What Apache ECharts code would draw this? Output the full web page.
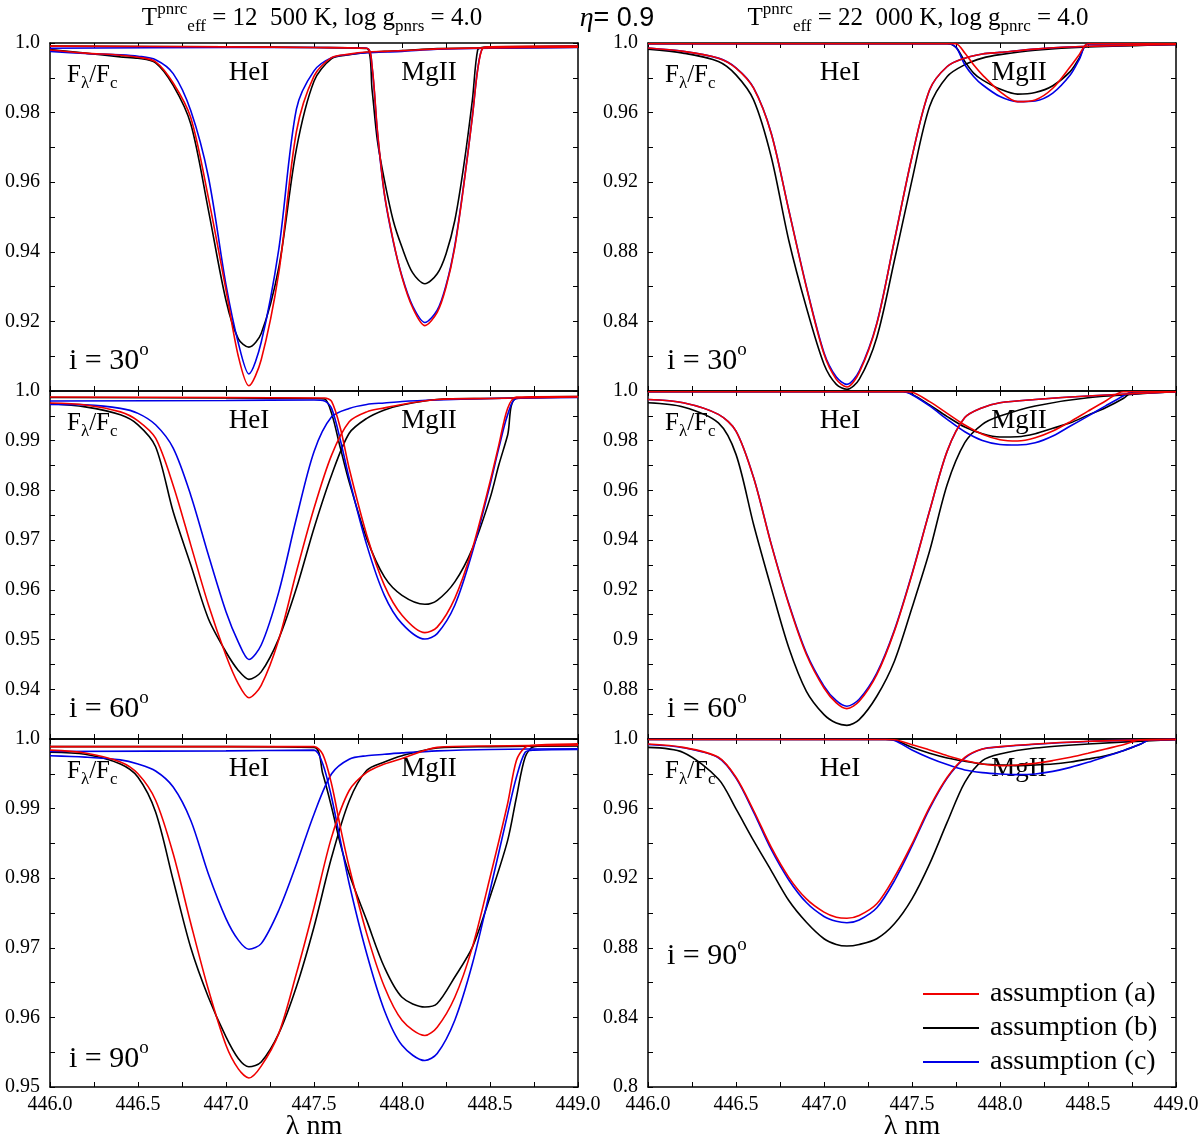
<!DOCTYPE html>
<html>
<head>
<meta charset="utf-8">
<title>HeI / MgII profiles</title>
<script src="https://cdn.jsdelivr.net/npm/echarts@6/dist/echarts.min.js"></script>
<style>
  html, body { margin: 0; padding: 0; background: #fff; }
  #chart { width: 1200px; height: 1144px; }
</style>
</head>
<body>
<div id="chart"></div>
<script>
// wavelength grid (nm) shared by all HeI profiles
const wlHe = [446.0, 446.2, 446.4, 446.5, 446.6, 446.7, 446.8, 446.9, 447.0, 447.07, 447.13, 447.2,
  447.3, 447.4, 447.5, 447.6, 447.7, 447.8, 447.9, 448.0, 448.2, 448.5, 449.0];

// ---- left column: Teff = 12 500 K ----
// i = 30
const heTL_a = [0.998, 0.9971, 0.9965, 0.9959, 0.9946, 0.9885, 0.9785, 0.9555, 0.929, 0.910, 0.9015, 0.909, 0.934, 0.9745, 0.9905, 0.9958, 0.9968, 0.9974, 0.9976, 0.9978, 0.9983, 0.9986, 0.9988];
const heTL_b = [0.9981, 0.9971, 0.996, 0.9956, 0.9943, 0.9878, 0.9767, 0.952, 0.926, 0.915, 0.9126, 0.9165, 0.9355, 0.9695, 0.989, 0.9955, 0.9966, 0.9973, 0.9976, 0.9978, 0.9984, 0.9986, 0.9988];
const heTL_c = [0.9976, 0.997, 0.9966, 0.9962, 0.9952, 0.9912, 0.9805, 0.9615, 0.9305, 0.9138, 0.9049, 0.914, 0.9408, 0.981, 0.992, 0.9958, 0.9967, 0.9972, 0.9974, 0.9976, 0.9982, 0.9985, 0.9987];
const mgWlTL = [446.0, 447.0, 447.5, 447.8, 447.83, 447.86, 447.9, 447.95, 448.0, 448.06, 448.13, 448.2, 448.25, 448.3, 448.35, 448.4, 448.43, 448.46, 448.5, 449.0];
const mgTL_a = [0.9991, 0.9989, 0.9987, 0.9985, 0.9933, 0.975, 0.9567, 0.9433, 0.9327, 0.924, 0.9188, 0.9226, 0.9298, 0.9413, 0.9587, 0.9788, 0.9923, 0.9986, 0.9989, 0.9991];
const mgTL_b = [0.9991, 0.9989, 0.9987, 0.9984, 0.9865, 0.972, 0.9606, 0.949, 0.9413, 0.934, 0.9308, 0.9337, 0.9394, 0.949, 0.9644, 0.9837, 0.998, 0.9988, 0.9989, 0.9991];
const mgTL_c = [0.9985, 0.9987, 0.9987, 0.9985, 0.993, 0.9745, 0.9565, 0.943, 0.933, 0.9245, 0.9197, 0.9232, 0.9303, 0.9418, 0.959, 0.979, 0.9925, 0.9986, 0.9988, 0.999];

// i = 60
const heML_a = [0.9976, 0.9972, 0.9958, 0.994, 0.9905, 0.981, 0.969, 0.957, 0.9468, 0.9411, 0.9383, 0.9408, 0.950, 0.9636, 0.9764, 0.9871, 0.9938, 0.9958, 0.9966, 0.9973, 0.9983, 0.9985, 0.9988];
const heML_b = [0.9975, 0.9968, 0.9952, 0.9932, 0.9888, 0.9757, 0.965, 0.9542, 0.9475, 0.9438, 0.942, 0.9435, 0.9502, 0.9603, 0.9724, 0.9831, 0.9915, 0.9945, 0.9962, 0.9972, 0.9983, 0.9985, 0.9988];
const heML_c = [0.9973, 0.9972, 0.9965, 0.9955, 0.9932, 0.9885, 0.979, 0.967, 0.9556, 0.9495, 0.946, 0.9489, 0.9596, 0.9744, 0.9878, 0.9948, 0.9965, 0.9973, 0.9976, 0.9979, 0.9982, 0.9985, 0.9987];
const mgWlML = [446.0, 447.0, 447.5, 447.56, 447.6, 447.65, 447.7, 447.8, 447.9, 448.0, 448.13, 448.2, 448.3, 448.4, 448.5, 448.55, 448.6, 448.65, 449.0];
const mgML_a = [0.9988, 0.9987, 0.9986, 0.9986, 0.9979, 0.9925, 0.9844, 0.971, 0.9609, 0.9549, 0.9514, 0.9525, 0.9583, 0.9683, 0.9817, 0.9891, 0.9965, 0.9988, 0.9989];
const mgML_b = [0.9987, 0.9986, 0.9985, 0.9984, 0.9955, 0.9885, 0.9817, 0.9703, 0.9626, 0.9589, 0.9571, 0.9579, 0.9616, 0.9683, 0.9784, 0.9851, 0.9911, 0.9985, 0.9989];
const mgML_c = [0.998, 0.9981, 0.9982, 0.998, 0.9965, 0.9901, 0.9824, 0.969, 0.9589, 0.9532, 0.9501, 0.9512, 0.9569, 0.9676, 0.9811, 0.9885, 0.9952, 0.9985, 0.9988];

// i = 90
const heBL_a = [0.9984, 0.998, 0.9967, 0.995, 0.9912, 0.9835, 0.9735, 0.964, 0.956, 0.9526, 0.9513, 0.953, 0.9577, 0.9663, 0.9758, 0.9859, 0.9926, 0.9952, 0.9964, 0.9972, 0.9988, 0.999, 0.9991];
const heBL_b = [0.9981, 0.9978, 0.9964, 0.9945, 0.9895, 0.9797, 0.970, 0.9629, 0.9572, 0.9541, 0.9529, 0.9536, 0.9577, 0.9644, 0.973, 0.983, 0.9911, 0.9955, 0.9967, 0.9976, 0.9987, 0.9989, 0.999];
const heBL_c = [0.9976, 0.9974, 0.997, 0.9964, 0.9954, 0.9931, 0.9883, 0.9806, 0.9742, 0.9711, 0.9698, 0.9706, 0.9754, 0.982, 0.9892, 0.995, 0.9971, 0.9976, 0.9978, 0.998, 0.9983, 0.9985, 0.9986];
const mgWlBL = [446.0, 447.0, 447.5, 447.55, 447.6, 447.65, 447.7, 447.8, 447.9, 448.0, 448.13, 448.2, 448.3, 448.4, 448.5, 448.6, 448.65, 448.7, 448.75, 449.0];
const mgBL_a = [0.9989, 0.9989, 0.9989, 0.9978, 0.9935, 0.9873, 0.9816, 0.972, 0.9644, 0.9596, 0.9574, 0.9586, 0.9629, 0.9701, 0.9801, 0.9907, 0.9969, 0.9988, 0.9991, 0.9993];
const mgBL_b = [0.9989, 0.9989, 0.9988, 0.995, 0.9902, 0.9849, 0.9806, 0.9739, 0.9672, 0.9629, 0.9615, 0.962, 0.9658, 0.9701, 0.9773, 0.9854, 0.9916, 0.9974, 0.9989, 0.9991];
const mgBL_c = [0.9982, 0.9983, 0.9984, 0.9964, 0.9916, 0.9854, 0.9792, 0.9691, 0.961, 0.956, 0.9538, 0.9548, 0.9596, 0.9677, 0.9782, 0.9892, 0.9945, 0.9981, 0.9984, 0.9985];

// ---- right column: Teff = 22 000 K ----
// i = 30
const heTR_a = [0.9971, 0.9952, 0.9913, 0.9856, 0.974, 0.948, 0.9038, 0.8596, 0.8212, 0.8067, 0.8023, 0.8106, 0.8385, 0.8865, 0.9346, 0.9731, 0.9865, 0.9913, 0.9937, 0.9946, 0.9965, 0.9981, 0.9992];
const heTR_b = [0.9965, 0.9942, 0.9894, 0.9817, 0.9673, 0.9346, 0.8865, 0.848, 0.8154, 0.8038, 0.801, 0.8067, 0.8308, 0.875, 0.9212, 0.9635, 0.9808, 0.9875, 0.9913, 0.9933, 0.9958, 0.9977, 0.999];
const heTR_c = [0.9971, 0.9952, 0.9913, 0.9857, 0.9742, 0.9483, 0.904, 0.86, 0.822, 0.808, 0.8038, 0.8115, 0.839, 0.8865, 0.9346, 0.973, 0.9865, 0.9913, 0.9937, 0.9946, 0.9965, 0.9981, 0.9992];
const mgWlTR = [446.0, 447.7, 447.75, 447.8, 447.85, 447.9, 448.0, 448.1, 448.2, 448.3, 448.4, 448.45, 448.5, 449.0];
const mgTR_a = [0.9996, 0.9996, 0.9996, 0.9942, 0.9875, 0.9817, 0.9721, 0.9663, 0.9673, 0.974, 0.9865, 0.9933, 0.9996, 0.9996];
const mgTR_b = [0.9996, 0.9996, 0.9975, 0.9894, 0.9827, 0.9788, 0.9735, 0.9706, 0.9715, 0.9754, 0.9837, 0.9913, 0.9996, 0.9996];
const mgTR_c = [0.9996, 0.9996, 0.9975, 0.9875, 0.9808, 0.976, 0.9692, 0.9663, 0.9667, 0.9712, 0.9817, 0.9904, 0.9994, 0.9996];

// i = 60
const heMR_a = [0.9966, 0.9953, 0.9906, 0.9839, 0.9651, 0.9383, 0.9141, 0.894, 0.8805, 0.8745, 0.8722, 0.8752, 0.8859, 0.9034, 0.9262, 0.9517, 0.9758, 0.9893, 0.9933, 0.9953, 0.9966, 0.998, 0.9997];
const heMR_b = [0.9953, 0.9936, 0.9872, 0.9745, 0.9463, 0.9208, 0.8967, 0.8792, 0.8698, 0.8664, 0.8655, 0.8678, 0.8772, 0.8913, 0.9128, 0.9356, 0.9624, 0.9792, 0.9866, 0.9899, 0.994, 0.9973, 0.9997];
const heMR_c = [0.9966, 0.9953, 0.9906, 0.9839, 0.9652, 0.9385, 0.9145, 0.8946, 0.8813, 0.8754, 0.8732, 0.876, 0.8865, 0.9038, 0.9265, 0.9518, 0.9758, 0.9893, 0.9933, 0.9953, 0.9966, 0.998, 0.9997];
const mgWlMR = [446.0, 447.45, 447.5, 447.6, 447.7, 447.8, 447.9, 448.0, 448.1, 448.2, 448.3, 448.4, 448.5, 448.6, 448.7, 448.75, 448.8, 449.0];
const mgMR_a = [0.9997, 0.9997, 0.9995, 0.9957, 0.991, 0.9863, 0.9826, 0.9804, 0.9799, 0.9812, 0.9839, 0.9877, 0.9919, 0.996, 0.9997, 0.9997, 0.9997, 0.9997];
const mgMR_b = [0.9997, 0.9997, 0.9987, 0.9944, 0.9897, 0.9855, 0.9828, 0.9815, 0.9816, 0.9828, 0.985, 0.9872, 0.9903, 0.9933, 0.997, 0.9995, 0.9997, 0.9997];
const mgMR_c = [0.9997, 0.9997, 0.9985, 0.994, 0.9886, 0.9836, 0.9801, 0.9785, 0.9783, 0.9792, 0.9819, 0.9859, 0.9899, 0.994, 0.998, 0.9997, 0.9997, 0.9997];

// i = 90
const heBR_a = [0.9971, 0.9952, 0.9895, 0.978, 0.9589, 0.9378, 0.9205, 0.9081, 0.9005, 0.8976, 0.897, 0.8986, 0.9053, 0.9206, 0.9397, 0.9608, 0.978, 0.9895, 0.9943, 0.9956, 0.9971, 0.9987, 0.9998];
const heBR_b = [0.9952, 0.9923, 0.977, 0.9598, 0.9416, 0.9244, 0.9072, 0.8947, 0.8852, 0.8819, 0.881, 0.8819, 0.8852, 0.8938, 0.9081, 0.9282, 0.9522, 0.9751, 0.9876, 0.9914, 0.9948, 0.9971, 0.9998];
const heBR_c = [0.9968, 0.995, 0.9892, 0.9775, 0.958, 0.9365, 0.919, 0.906, 0.898, 0.8952, 0.8944, 0.896, 0.903, 0.9185, 0.9385, 0.96, 0.9775, 0.989, 0.9942, 0.9955, 0.997, 0.9986, 0.9998];
const mgWlBR = [446.0, 447.35, 447.4, 447.5, 447.6, 447.7, 447.8, 447.9, 448.0, 448.1, 448.2, 448.3, 448.4, 448.5, 448.6, 448.7, 448.8, 448.85, 449.0];
const mgBR_a = [0.9997, 0.9997, 0.9996, 0.9967, 0.9937, 0.9904, 0.9876, 0.9856, 0.9847, 0.9851, 0.986, 0.9876, 0.9895, 0.9918, 0.9943, 0.9967, 0.9996, 0.9997, 0.9997];
const mgBR_b = [0.9997, 0.9997, 0.9994, 0.9952, 0.9918, 0.9891, 0.9872, 0.9856, 0.9851, 0.9847, 0.9851, 0.9856, 0.9868, 0.9885, 0.9904, 0.9933, 0.9971, 0.9994, 0.9997];
const mgBR_c = [0.9997, 0.9997, 0.9992, 0.9937, 0.9891, 0.9853, 0.9822, 0.9807, 0.9799, 0.9795, 0.9799, 0.9814, 0.9837, 0.9866, 0.9899, 0.9933, 0.9971, 0.9994, 0.9997];

const names = ['assumption (a)', 'assumption (b)', 'assumption (c)'];
const colors = ['#f00000', '#000000', '#0000e6'];

const panels = [
  { col: 0, row: 0, yMin: 0.90, yInt: 0.02, he: [heTL_a, heTL_b, heTL_c], mgWl: mgWlTL, mg: [mgTL_a, mgTL_b, mgTL_c], inc: '30' },
  { col: 0, row: 1, yMin: 0.93, yInt: 0.01, he: [heML_a, heML_b, heML_c], mgWl: mgWlML, mg: [mgML_a, mgML_b, mgML_c], inc: '60' },
  { col: 0, row: 2, yMin: 0.95, yInt: 0.01, he: [heBL_a, heBL_b, heBL_c], mgWl: mgWlBL, mg: [mgBL_a, mgBL_b, mgBL_c], inc: '90' },
  { col: 1, row: 0, yMin: 0.80, yInt: 0.04, he: [heTR_a, heTR_b, heTR_c], mgWl: mgWlTR, mg: [mgTR_a, mgTR_b, mgTR_c], inc: '30' },
  { col: 1, row: 1, yMin: 0.86, yInt: 0.02, he: [heMR_a, heMR_b, heMR_c], mgWl: mgWlMR, mg: [mgMR_a, mgMR_b, mgMR_c], inc: '60' },
  { col: 1, row: 2, yMin: 0.80, yInt: 0.04, he: [heBR_a, heBR_b, heBR_c], mgWl: mgWlBR, mg: [mgBR_a, mgBR_b, mgBR_c], inc: '90' }
];

const SERIF = '"Liberation Serif", "DejaVu Serif", serif';
const gridLeft = [50, 648];
const gridTop = [43, 391, 739];
const gridW = 528, gridH = 348;

const axisLine = { show: true, onZero: false, lineStyle: { color: '#000', width: 1.5 } };
const tick = { show: true, inside: true, length: 5, lineStyle: { color: '#000', width: 1 } };
const minor = { show: true, splitNumber: 2, length: 5, lineStyle: { color: '#000', width: 1 } };

const fmtY = v => (Math.abs(v - 1) < 1e-9 ? '1.0' : String(Math.round(v * 10000) / 10000));

const grid = [], xAxis = [], yAxis = [], series = [], graphic = [];

panels.forEach((p, i) => {
  const left = gridLeft[p.col], top = gridTop[p.row];
  grid.push({ left: left, top: top, width: gridW, height: gridH, outerBoundsMode: 'none' });
  const bottomRow = p.row === 2;
  xAxis.push({
    type: 'value', gridIndex: i, position: 'bottom', min: 446, max: 449, interval: 0.5,
    axisLine: axisLine, axisTick: tick, minorTick: minor, splitLine: { show: false },
    axisLabel: { show: bottomRow, margin: 8, color: '#000', fontSize: 20, fontFamily: SERIF, formatter: v => v.toFixed(1) }
  });
  xAxis.push({
    type: 'value', gridIndex: i, position: 'top', min: 446, max: 449, interval: 0.5,
    axisLine: axisLine, axisTick: tick, minorTick: minor, splitLine: { show: false }, axisLabel: { show: false }
  });
  yAxis.push({
    type: 'value', gridIndex: i, position: 'left', min: p.yMin, max: 1.0, interval: p.yInt,
    axisLine: axisLine, axisTick: tick, minorTick: minor, splitLine: { show: false },
    axisLabel: { margin: 10, color: '#000', fontSize: 20, fontFamily: SERIF, formatter: fmtY, showMinLabel: bottomRow, showMaxLabel: true }
  });
  yAxis.push({
    type: 'value', gridIndex: i, position: 'right', min: p.yMin, max: 1.0, interval: p.yInt,
    axisLine: axisLine, axisTick: tick, minorTick: minor, splitLine: { show: false }, axisLabel: { show: false }
  });

  // draw order: black, blue, red on top
  [1, 2, 0].forEach(k => {
    [[wlHe, p.he[k]], [p.mgWl, p.mg[k]]].forEach(([wl, vals]) => {
      series.push({
        type: 'line', name: names[k], xAxisIndex: 2 * i, yAxisIndex: 2 * i,
        data: wl.map((x, j) => [x, vals[j]]),
        showSymbol: false, symbol: 'none', smooth: 0.3, color: colors[k],
        lineStyle: { color: colors[k], width: 1.6 }, silent: true, animation: false
      });
    });
  });

  // panel labels
  const relHe = p.col === 0 ? 199 : 192;
  const relMg = p.col === 0 ? 379 : 371;
  graphic.push({ type: 'text', x: left + relHe, y: top + 30, style: { text: 'HeI', fontSize: 27, fontFamily: SERIF, fill: '#000', align: 'center', verticalAlign: 'middle' } });
  graphic.push({ type: 'text', x: left + relMg, y: top + 30, style: { text: 'MgII', fontSize: 27, fontFamily: SERIF, fill: '#000', align: 'center', verticalAlign: 'middle' } });
  graphic.push({
    type: 'text', x: left + 17, y: top + 32,
    style: {
      text: '{m|F}{s|λ}{m|/F}{s|c}', align: 'left', verticalAlign: 'middle',
      rich: {
        m: { fontSize: 25, fontFamily: SERIF, fill: '#000', lineHeight: 34, verticalAlign: 'middle' },
        s: { fontSize: 17, fontFamily: SERIF, fill: '#000', lineHeight: 17, verticalAlign: 'bottom' }
      }
    }
  });
  const incY = (p.col === 1 && p.row === 2) ? 217 : (p.row === 2 ? 320 : 318);
  graphic.push({
    type: 'text', x: left + 19, y: top + incY,
    style: {
      text: '{m|i = ' + p.inc + '}{s|o}', align: 'left', verticalAlign: 'middle',
      rich: {
        m: { fontSize: 30, fontFamily: SERIF, fill: '#000', lineHeight: 40, verticalAlign: 'middle' },
        s: { fontSize: 19, fontFamily: SERIF, fill: '#000', lineHeight: 19, verticalAlign: 'top' }
      }
    }
  });
});

const titleRich = {
  m: { fontSize: 25, fontFamily: SERIF, fill: '#000', lineHeight: 34, verticalAlign: 'middle' },
  sup: { fontSize: 17, fontFamily: SERIF, fill: '#000', lineHeight: 16, verticalAlign: 'top' },
  sub: { fontSize: 17, fontFamily: SERIF, fill: '#000', lineHeight: 16, verticalAlign: 'bottom' }
};
graphic.push({
  type: 'text', x: 312, y: 18,
  style: { text: '{m|T}{sup|pnrc}{sub|eff}{m| = 12  500 K, log g}{sub|pnrs}{m| = 4.0}', align: 'center', verticalAlign: 'middle', rich: titleRich }
});
graphic.push({
  type: 'text', x: 918, y: 18,
  style: { text: '{m|T}{sup|pnrc}{sub|eff}{m| = 22  000 K, log g}{sub|pnrc}{m| = 4.0}', align: 'center', verticalAlign: 'middle', rich: titleRich }
});
graphic.push({
  type: 'text', x: 617, y: 19,
  style: {
    text: '{e|η}{m|= 0.9}', align: 'center', verticalAlign: 'middle',
    rich: {
      e: { fontSize: 28, fontFamily: SERIF, fontStyle: 'italic', fill: '#000' },
      m: { fontSize: 27, fontFamily: '"Liberation Sans", Arial, sans-serif', fill: '#000' }
    }
  }
});
[314, 912].forEach(cx => {
  graphic.push({
    type: 'text', x: cx, y: 1127,
    style: { text: 'λ nm', fontSize: 28, fontFamily: SERIF, fill: '#000', align: 'center', verticalAlign: 'middle' }
  });
});

const chart = echarts.init(document.getElementById('chart'));
chart.setOption({
  backgroundColor: '#fff',
  animation: false,
  grid: grid,
  xAxis: xAxis,
  yAxis: yAxis,
  series: series,
  graphic: graphic,
  legend: {
    data: names, orient: 'vertical', left: 918, top: 975,
    icon: 'rect', itemWidth: 56, itemHeight: 2, itemGap: 6,
    textStyle: { fontSize: 28, fontFamily: SERIF, color: '#000', padding: [0, 0, 0, 6] },
    selectedMode: false
  }
});
</script>
</body>
</html>
